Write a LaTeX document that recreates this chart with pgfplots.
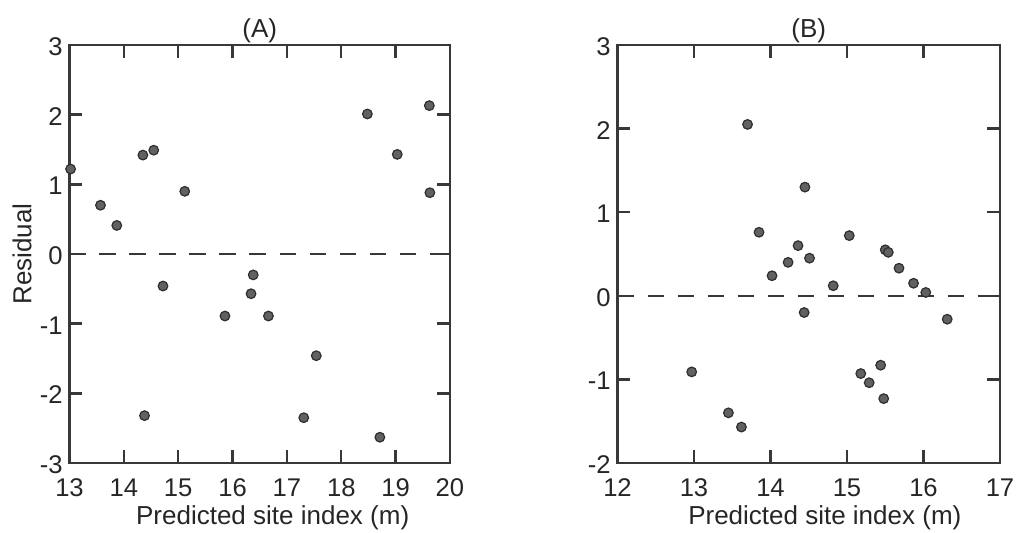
\documentclass[border=0pt]{standalone}
\usepackage{fontspec}
\setmainfont{Liberation Sans}
\usepackage{pgfplots}
\pgfplotsset{compat=1.18}

\newcommand\lblfont{\fontsize{13pt}{15pt}\selectfont}
\newcommand\tickfont{\fontsize{12.8pt}{15pt}\selectfont}
\colorlet{ink}{black!78}

% common look of both residual panels
\pgfplotsset{
  resid/.style={
    scale only axis,
    anchor=south west,
    clip=false,
    axis line style={line width=1.2pt, ink},
    every tick/.style={line width=1.2pt, ink},
    tick align=inside,
    tick pos=both,
    major tick length=6.3pt,
    tick label style={font=\tickfont, text=black!85},
    xticklabel style={anchor=north, inner sep=0pt, yshift=-7.5pt},
    yticklabel style={anchor=east, inner sep=0pt, xshift=-3.2pt, yshift=-0.8pt},
    every axis title/.style={font=\lblfont, text=black!85, anchor=base,
                 inner sep=0pt, at={(axis description cs:0.5,1.018)}},
    every axis x label/.style={font=\lblfont, text=black!85, anchor=base,
                 inner sep=0pt},
    every axis y label/.style={font=\lblfont, text=black!85, anchor=base,
                 inner sep=0pt, rotate=90,
                 at={(axis description cs:-0.0999,0.5)}},
  },
  zero/.style={dash pattern=on 8.2pt off 6.8pt, line width=1.3pt, ink},
  dots/.style={only marks, mark=*, mark size=2.4pt,
               mark options={fill=black!62, draw=black!82, line width=0.6pt}},
}

\begin{document}
\begin{tikzpicture}
\useasboundingbox (0,0) rectangle (509.5pt,266pt);

% (A)
\begin{axis}[resid,
  at={(34.75pt,34.5pt)}, width=190.25pt, height=209pt,
  xmin=13, xmax=20, ymin=-3, ymax=3,
  xtick={13,...,20}, xticklabels={13,14,15,16,17,18,19,20},
  ytick={-3,...,3}, yticklabels={-3,-2,-1,0,1,2,3},
  title={(A)},
  xlabel={Predicted site index (m)},
  xlabel style={at={(axis description cs:0.534,-0.1483)}},
  ylabel={Residual},
]
\addplot[zero] coordinates {(13,0) (20,0)};
\addplot[dots] coordinates {
  (13.02,1.22) (13.57,0.70) (13.87,0.41) (14.35,1.42) (14.55,1.49)
  (15.12,0.90) (14.72,-0.46) (15.86,-0.89) (16.34,-0.57) (16.38,-0.30)
  (16.66,-0.89) (17.54,-1.46) (14.38,-2.32) (17.31,-2.35) (18.71,-2.63)
  (18.48,2.01) (19.03,1.43) (19.62,2.13) (19.63,0.88)
};
\end{axis}

% (B)
\begin{axis}[resid,
  at={(308.75pt,34.5pt)}, width=191.25pt, height=209pt,
  xmin=12, xmax=17, ymin=-2, ymax=3,
  xtick={12,...,17}, xticklabels={12,13,14,15,16,17},
  ytick={-2,...,3}, yticklabels={-2,-1,0,1,2,3},
  title={(B)},
  xlabel={Predicted site index (m)},
  xlabel style={at={(axis description cs:0.542,-0.1483)}},
]
\addplot[zero] coordinates {(12,0) (17,0)};
\addplot[dots] coordinates {
  (13.70,2.05) (14.45,1.30) (13.85,0.76) (14.36,0.60) (14.23,0.40)
  (14.02,0.24) (14.51,0.45) (15.03,0.72) (14.82,0.12) (15.50,0.55)
  (15.54,0.52) (15.68,0.33) (15.87,0.15) (16.03,0.04) (14.44,-0.20)
  (16.31,-0.28) (12.97,-0.91) (13.45,-1.40) (13.62,-1.57) (15.18,-0.93)
  (15.29,-1.04) (15.44,-0.83) (15.48,-1.23)
};
\end{axis}
\end{tikzpicture}
\end{document}
